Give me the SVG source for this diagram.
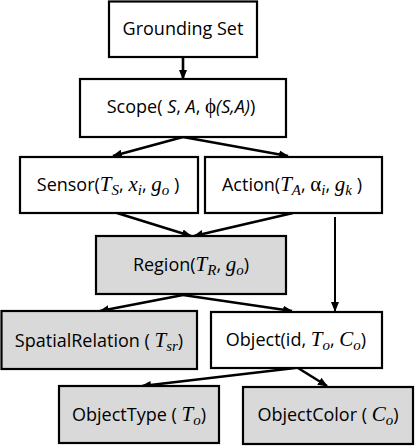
<svg xmlns="http://www.w3.org/2000/svg" width="416" height="446" viewBox="0 0 416 446">
<style>
.box{fill:#fff;stroke:#000;stroke-width:2.2}
.gray{fill:#d9d9d9}
.t{font-family:"Open Sans","Liberation Sans",sans-serif;font-size:18px;fill:#000;text-anchor:middle}
.m{font-family:"Liberation Serif",serif;font-style:italic;font-size:21px}
.mu{font-family:"Liberation Serif",serif;font-size:21px}
.s{font-family:"Liberation Serif",serif;font-style:italic;font-size:15px}
.i{font-style:italic}
.c{fill:none;stroke:#000;stroke-width:2.6}
</style>
<defs>
<marker id="ah" markerUnits="userSpaceOnUse" markerWidth="10" markerHeight="10" viewBox="0 0 10 10" refX="9" refY="5" orient="auto">
<path d="M0,1 L10,5 L0,9 Z" fill="#000"/>
</marker>
</defs>
<rect width="416" height="446" fill="#fff"/>
<g id="connectors">
<line class="c" x1="183" y1="57" x2="183" y2="79" marker-end="url(#ah)"/>
<line class="c" x1="183" y1="137" x2="113" y2="156" marker-end="url(#ah)"/>
<line class="c" x1="183" y1="137" x2="288" y2="156" marker-end="url(#ah)"/>
<line class="c" x1="117" y1="213" x2="191" y2="236" marker-end="url(#ah)"/>
<line class="c" x1="293" y1="213" x2="194" y2="236" marker-end="url(#ah)"/>
<line class="c" x1="335" y1="217" x2="335" y2="311" marker-end="url(#ah)" style="stroke-width:2"/>
<line class="c" x1="183" y1="295" x2="100" y2="311" marker-end="url(#ah)"/>
<line class="c" x1="183" y1="295" x2="292" y2="311" marker-end="url(#ah)"/>
<line class="c" x1="295" y1="368" x2="142" y2="386" marker-end="url(#ah)"/>
<line class="c" x1="298" y1="368" x2="327" y2="386" marker-end="url(#ah)"/>
</g>
<g id="grounding-set">
<rect class="box" x="109" y="1.5" width="148" height="55.5"/>
<text class="t" x="183" y="35">Grounding Set</text>
</g>
<g id="scope">
<rect class="box" x="80" y="79" width="206" height="58"/>
<text class="t" x="181" y="113">Scope( <tspan class="i">S</tspan>, <tspan class="i">A</tspan>, <tspan class="mu">ϕ</tspan><tspan class="i">(S,A)</tspan>)</text>
</g>
<g id="sensor">
<rect class="box" x="20" y="157" width="178" height="56"/>
<text class="t" x="108" y="191">Sensor(<tspan class="m">T</tspan><tspan class="s" dy="4">S</tspan><tspan dy="-4">, </tspan><tspan class="m">x</tspan><tspan class="s" dy="4">i</tspan><tspan dy="-4">, </tspan><tspan class="m">g</tspan><tspan class="s" dy="4">o</tspan><tspan dy="-4"> )</tspan></text>
</g>
<g id="action">
<rect class="box" x="205" y="157" width="177" height="56"/>
<text class="t" x="292" y="191">Action(<tspan class="m">T</tspan><tspan class="s" dy="4">A</tspan><tspan dy="-4">, </tspan><tspan class="mu">α</tspan><tspan class="s" dy="4">i</tspan><tspan dy="-4">, </tspan><tspan class="m">g</tspan><tspan class="s" dy="4">k</tspan><tspan dy="-4"> )</tspan></text>
</g>
<g id="region">
<rect class="box gray" x="96" y="236" width="190" height="58"/>
<text class="t" x="191" y="271">Region(<tspan class="m">T</tspan><tspan class="s" dy="4">R</tspan><tspan dy="-4">, </tspan><tspan class="m">g</tspan><tspan class="s" dy="4">o</tspan><tspan dy="-4">)</tspan></text>
</g>
<g id="spatial-relation">
<rect class="box gray" x="1.5" y="311" width="195.5" height="58"/>
<text class="t" x="99" y="347">SpatialRelation ( <tspan class="m">T</tspan><tspan class="s" dy="4">sr</tspan><tspan dy="-4">)</tspan></text>
</g>
<g id="object">
<rect class="box" x="211" y="312" width="171" height="56"/>
<text class="t" x="296" y="346">Object(id, <tspan class="m">T</tspan><tspan class="s" dy="4">o</tspan><tspan dy="-4">, </tspan><tspan class="m">C</tspan><tspan class="s" dy="4">o</tspan><tspan dy="-4">)</tspan></text>
</g>
<g id="object-type">
<rect class="box gray" x="59" y="386" width="160" height="57"/>
<text class="t" x="139" y="421">ObjectType ( <tspan class="m">T</tspan><tspan class="s" dy="4">o</tspan><tspan dy="-4">)</tspan></text>
</g>
<g id="object-color">
<rect class="box gray" x="243" y="387" width="170" height="57"/>
<text class="t" x="328" y="421">ObjectColor ( <tspan class="m">C</tspan><tspan class="s" dy="4">o</tspan><tspan dy="-4">)</tspan></text>
</g>
</svg>
